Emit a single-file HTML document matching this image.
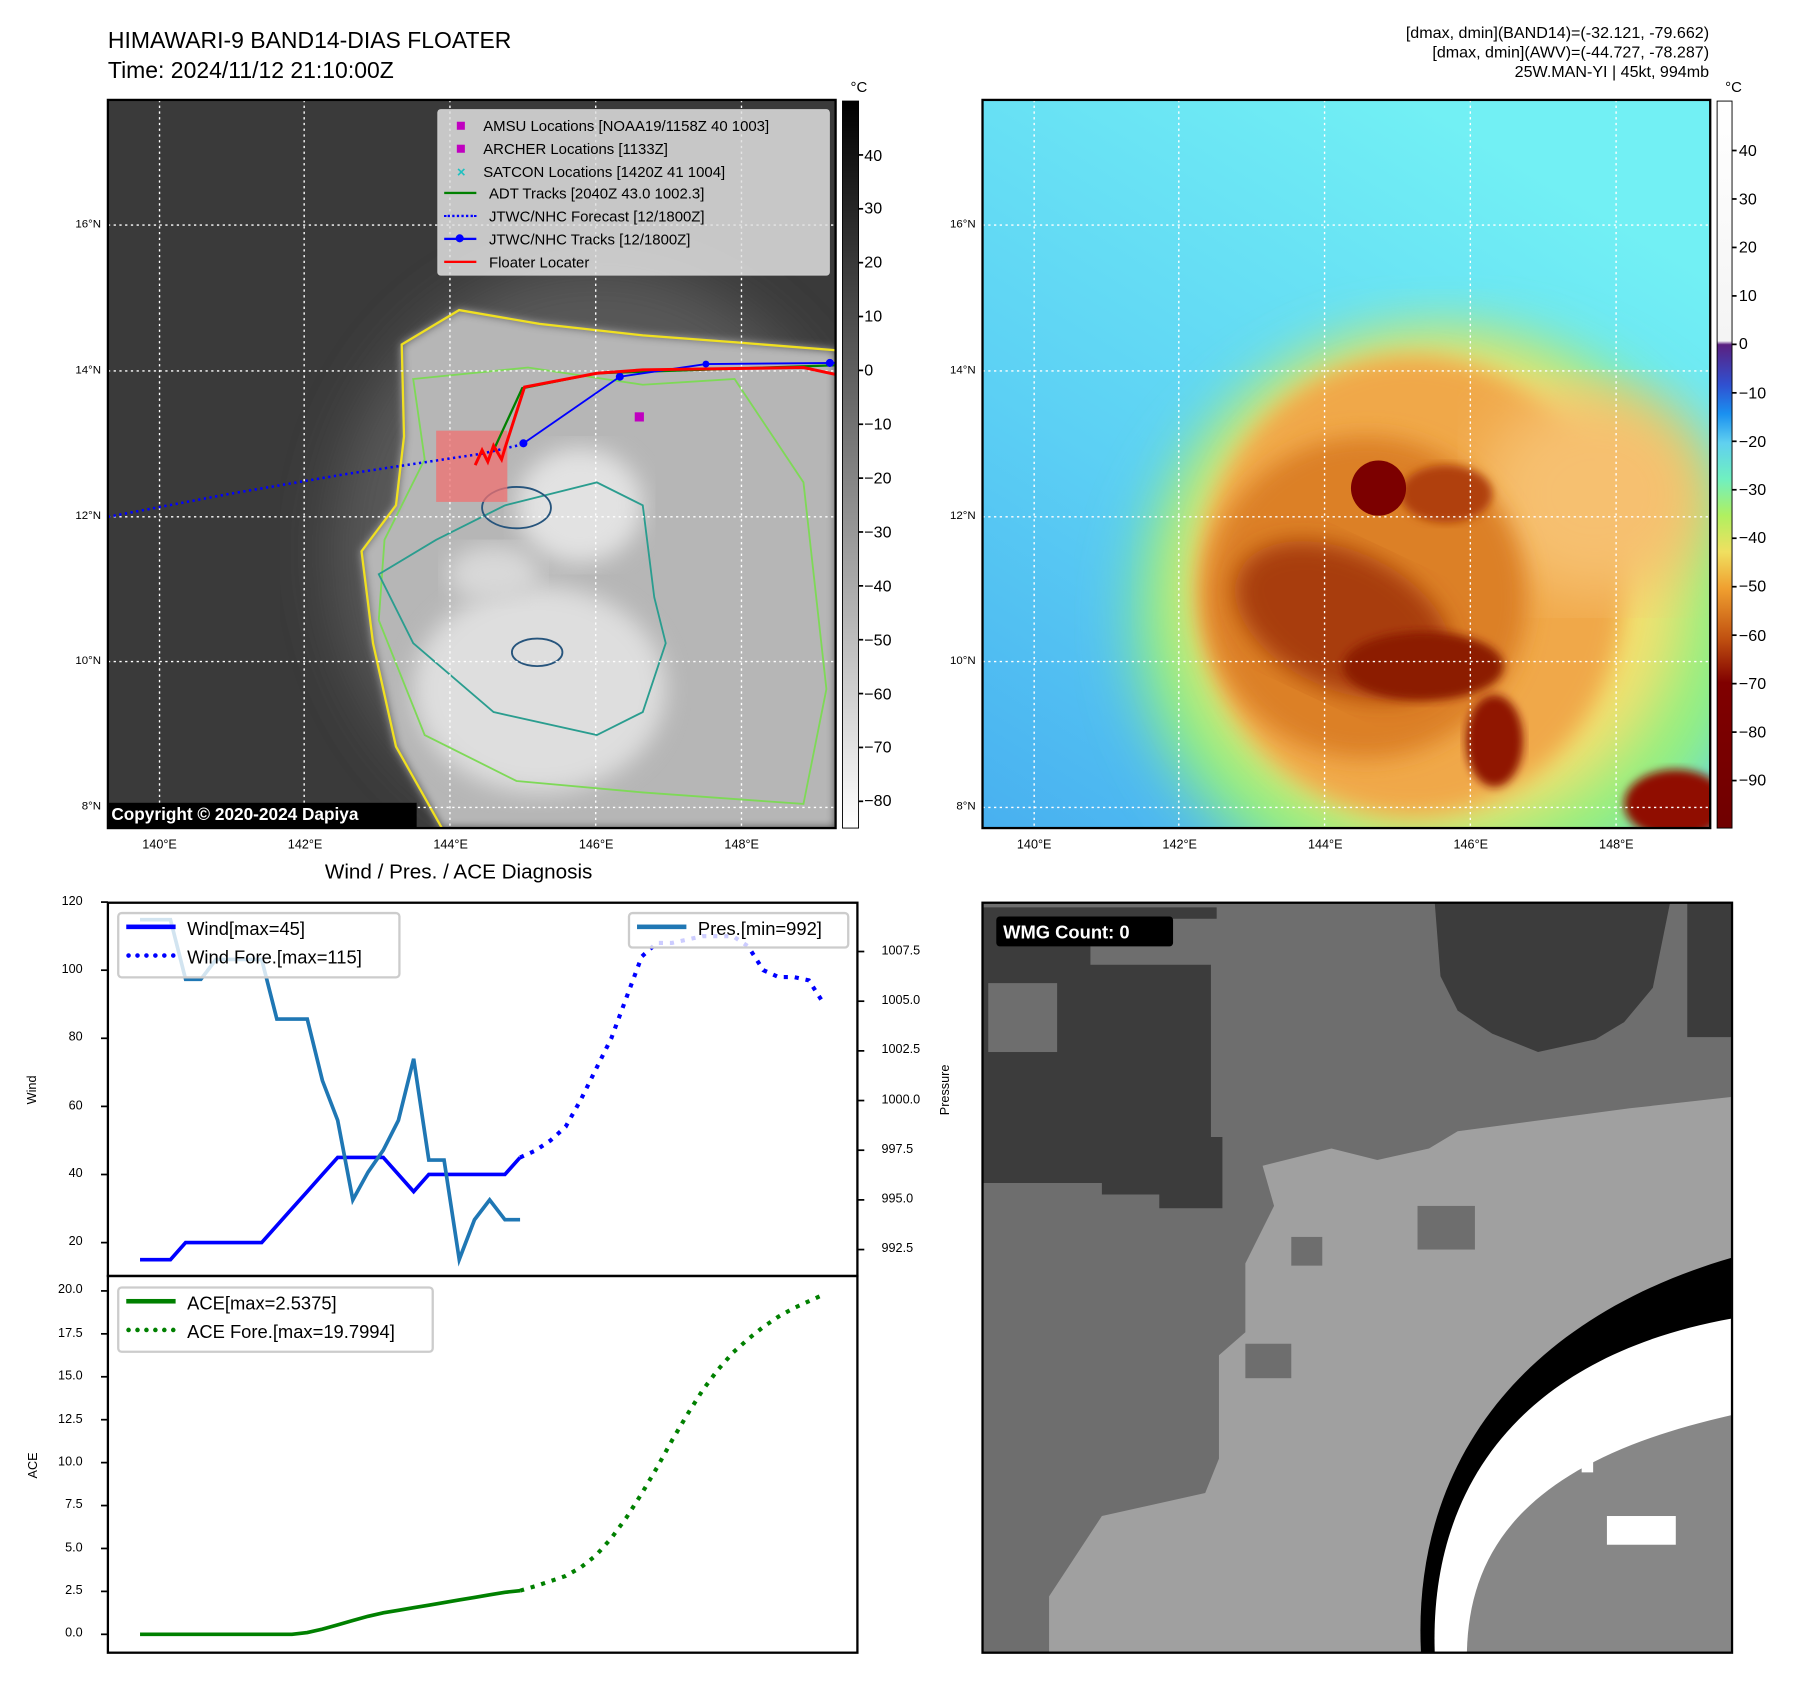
<!DOCTYPE html>
<html><head><meta charset="utf-8">
<style>
html,body{margin:0;padding:0;background:#fff;}
body{width:1801px;height:1690px;overflow:hidden;font-family:"Liberation Sans",sans-serif;}
#wrap{position:absolute;left:0;top:0;width:1569px;height:1472px;transform:scale(1.1478,1.1485);transform-origin:0 0;}
.t{position:absolute;white-space:nowrap;color:#000;}
svg{position:absolute;left:0;top:0;overflow:visible;}
</style></head><body>
<div id="wrap">
<div class="t" style="left:94px;top:23px;font-size:20px;line-height:26px;">HIMAWARI-9 BAND14-DIAS FLOATER<br>Time: 2024/11/12 21:10:00Z</div>
<div class="t" style="right:80px;top:20px;font-size:14px;line-height:17px;text-align:right;">[dmax, dmin](BAND14)=(-32.121, -79.662)<br>[dmax, dmin](AWV)=(-44.727, -78.287)<br>25W.MAN-YI | 45kt, 994mb</div>

<svg width="1569" height="1472">
<defs>
<filter id="b4"><feGaussianBlur stdDeviation="4"/></filter>
<filter id="b10"><feGaussianBlur stdDeviation="10"/></filter>
<filter id="b25"><feGaussianBlur stdDeviation="25"/></filter>
<clipPath id="c1"><rect x="94" y="87" width="634" height="634"/></clipPath>
<clipPath id="c2"><rect x="856" y="87" width="634" height="634"/></clipPath>
<clipPath id="c3"><rect x="856" y="786" width="653" height="653"/></clipPath>
<linearGradient id="gbar" x1="0" y1="0" x2="0" y2="1"><stop offset="0" stop-color="#000"/><stop offset="1" stop-color="#fff"/></linearGradient>
<linearGradient id="jet" x1="0" y1="0" x2="0" y2="1">
<stop offset="0" stop-color="#fff"/><stop offset="0.33" stop-color="#f4f4f4"/>
<stop offset="0.335" stop-color="#5a2080"/><stop offset="0.39" stop-color="#3050d0"/>
<stop offset="0.43" stop-color="#1a90f0"/><stop offset="0.47" stop-color="#60d0f0"/>
<stop offset="0.52" stop-color="#70f0c0"/><stop offset="0.57" stop-color="#b0f060"/>
<stop offset="0.62" stop-color="#f0e060"/><stop offset="0.67" stop-color="#f0a030"/>
<stop offset="0.74" stop-color="#c05010"/><stop offset="0.8" stop-color="#800000"/><stop offset="1" stop-color="#700000"/></linearGradient>
<linearGradient id="sea" x1="0" y1="1" x2="0.6" y2="0"><stop offset="0" stop-color="#48b0f0"/><stop offset="0.45" stop-color="#5cd0f4"/><stop offset="1" stop-color="#72f0f4"/></linearGradient>
</defs>

<!-- TOP LEFT MAP -->
<g clip-path="url(#c1)">
<rect x="94" y="87" width="634" height="634" fill="#3a3a3a"/>
<ellipse cx="520" cy="480" rx="230" ry="250" fill="#585858" filter="url(#b25)"/>
<path d="M350,300 L400,270 L470,282 L560,292 L640,298 L728,305 L728,721 L385,721 L345,650 L325,560 L315,480 L345,440 L352,380 Z" fill="#b6b6b6" filter="url(#b4)"/>
<ellipse cx="470" cy="600" rx="110" ry="90" fill="#dedede" filter="url(#b10)"/>
<ellipse cx="505" cy="440" rx="55" ry="50" fill="#e2e2e2" filter="url(#b10)"/>
<ellipse cx="430" cy="500" rx="40" ry="25" fill="#d8d8d8" filter="url(#b10)"/>
<path d="M728,305 L640,298 L560,292 L470,282 L400,270 L350,300 L352,380 L345,440 L315,480 L325,560 L345,650 L385,721" fill="none" stroke="#f0e020" stroke-width="2"/>
<path d="M360,330 L460,320 L560,335 L640,330 L700,420 L720,600 L700,700 L560,690 L450,680 L370,640 L330,540 L335,470 L370,400 Z" fill="none" stroke="#7ed957" stroke-width="1.6"/>
<path d="M380,470 L440,440 L520,420 L560,440 L570,520 L580,560 L560,620 L520,640 L430,620 L360,560 L330,500 Z" fill="none" stroke="#2a9d8f" stroke-width="1.6"/>
<ellipse cx="450" cy="442" rx="30" ry="18" fill="none" stroke="#26547c" stroke-width="1.6"/>
<ellipse cx="468" cy="568" rx="22" ry="12" fill="none" stroke="#26547c" stroke-width="1.6"/>
<g stroke="#fff" stroke-width="1.2" stroke-dasharray="2,3">
<line x1="139" y1="87" x2="139" y2="721"/><line x1="265" y1="87" x2="265" y2="721"/><line x1="392" y1="87" x2="392" y2="721"/><line x1="519" y1="87" x2="519" y2="721"/><line x1="646" y1="87" x2="646" y2="721"/>
<line x1="94" y1="196" x2="728" y2="196"/><line x1="94" y1="323" x2="728" y2="323"/><line x1="94" y1="450" x2="728" y2="450"/><line x1="94" y1="576" x2="728" y2="576"/><line x1="94" y1="703" x2="728" y2="703"/></g>
<rect x="380" y="375" width="62" height="62" fill="#f07070" opacity="0.75"/>
<polyline points="94,450 200,430 300,413 420,395 455,387" fill="none" stroke="#00f" stroke-width="2.2" stroke-dasharray="2,3"/>
<polyline points="430,392 455,338 520,325 728,318" fill="none" stroke="#008000" stroke-width="2"/>
<polyline points="456,386 540,328 615,317 728,316" fill="none" stroke="#00f" stroke-width="1.6"/>
<g fill="#00f"><circle cx="456" cy="386" r="3.5"/><circle cx="540" cy="328" r="3.5"/><circle cx="615" cy="317" r="3"/><circle cx="723" cy="316" r="3.5"/></g>
<polyline points="414,405 420,392 425,402 430,388 437,400 440,390 457,337 520,325 560,322 700,320 728,326" fill="none" stroke="#f00" stroke-width="2.6"/>
<rect x="553" y="359" width="8" height="8" fill="#c000c0"/>
</g>
<rect x="94" y="87" width="634" height="634" fill="none" stroke="#000" stroke-width="2"/>
<rect x="734" y="88" width="14" height="633" fill="url(#gbar)" stroke="#000" stroke-width="0.8"/>

<!-- TOP RIGHT MAP -->
<g clip-path="url(#c2)">
<rect x="856" y="87" width="634" height="634" fill="url(#sea)"/>
<ellipse cx="1260" cy="540" rx="270" ry="250" fill="#90f080" filter="url(#b25)"/>
<ellipse cx="1250" cy="510" rx="220" ry="215" fill="#f4e070" filter="url(#b25)"/>
<ellipse cx="1230" cy="510" rx="185" ry="200" fill="#f0a848" filter="url(#b10)"/>
<ellipse cx="1390" cy="430" rx="100" ry="90" fill="#f6c070" filter="url(#b25)"/>
<ellipse cx="1190" cy="520" rx="140" ry="140" fill="#dc8028" filter="url(#b10)"/>
<ellipse cx="1170" cy="540" rx="100" ry="60" fill="#a83c08" filter="url(#b10)" transform="rotate(25 1170 540)"/>
<ellipse cx="1240" cy="580" rx="70" ry="30" fill="#8c1a00" filter="url(#b4)"/>
<ellipse cx="1260" cy="430" rx="40" ry="25" fill="#b04010" filter="url(#b4)"/>
<ellipse cx="1302" cy="645" rx="25" ry="40" fill="#901800" filter="url(#b4)"/>
<ellipse cx="1460" cy="700" rx="45" ry="30" fill="#901000" filter="url(#b4)"/>
<circle cx="1201" cy="425" r="24" fill="#7c0000"/>
<g stroke="#fff" stroke-width="1.2" stroke-dasharray="2,3">
<line x1="901" y1="87" x2="901" y2="721"/><line x1="1027" y1="87" x2="1027" y2="721"/><line x1="1154" y1="87" x2="1154" y2="721"/><line x1="1281" y1="87" x2="1281" y2="721"/><line x1="1408" y1="87" x2="1408" y2="721"/>
<line x1="856" y1="196" x2="1490" y2="196"/><line x1="856" y1="323" x2="1490" y2="323"/><line x1="856" y1="450" x2="1490" y2="450"/><line x1="856" y1="576" x2="1490" y2="576"/><line x1="856" y1="703" x2="1490" y2="703"/></g>
</g>
<rect x="856" y="87" width="634" height="634" fill="none" stroke="#000" stroke-width="2"/>
<rect x="1496" y="88" width="13" height="633" fill="url(#jet)" stroke="#000" stroke-width="0.8"/>

<!-- BOTTOM RIGHT -->
<g clip-path="url(#c3)">
<rect x="856" y="786" width="653" height="653" fill="#6e6e6e"/>
<polygon points="856,790 1060,790 1060,800 950,800 950,840 1055,840 1055,990 1065,990 1065,1052 1010,1052 1010,1040 960,1040 960,1030 856,1030" fill="#3c3c3c"/>
<polygon points="1250,786 1455,786 1440,860 1415,890 1390,905 1340,916 1300,900 1270,880 1255,850" fill="#3c3c3c"/>
<rect x="1470" y="786" width="39" height="117" fill="#3c3c3c"/>
<rect x="861" y="856" width="60" height="60" fill="#6e6e6e"/>
<polygon points="1100,1015 1160,1000 1200,1010 1245,1000 1270,985 1420,965 1509,955 1509,1439 914,1439 914,1390 960,1320 1050,1300 1062,1270 1062,1180 1085,1160 1085,1100 1110,1050" fill="#a0a0a0"/>
<rect x="1125" y="1077" width="27" height="25" fill="#6e6e6e"/><rect x="1085" y="1170" width="40" height="30" fill="#6e6e6e"/><rect x="1235" y="1050" width="50" height="38" fill="#6e6e6e"/>
<path d="M1238,1439 C1230,1280 1320,1150 1509,1095 L1509,1439 Z" fill="#000"/>
<path d="M1250,1439 C1245,1290 1330,1180 1509,1148 L1509,1439 Z" fill="#fff"/>
<path d="M1278,1439 C1280,1340 1340,1270 1509,1232 L1509,1439 Z" fill="#878787"/>
<rect x="1400" y="1320" width="60" height="25" fill="#fff"/><rect x="1378" y="1270" width="10" height="12" fill="#fff"/>
</g>
<rect x="856" y="786" width="653" height="653" fill="none" stroke="#000" stroke-width="2"/>
<rect x="868" y="798" width="154" height="26" rx="3" fill="#000"/>
<text x="874" y="817" font-size="16" font-weight="bold" fill="#fff">WMG Count: 0</text>

<rect x="94" y="786" width="653" height="325" fill="none" stroke="#000" stroke-width="2"/>
<rect x="94" y="1111" width="653" height="328" fill="none" stroke="#000" stroke-width="2"/>
<g id="chart"></g>
</svg>

<div class="t" style="left:741px;top:68px;font-size:13px;">°C</div>
<div class="t" style="left:1503px;top:68px;font-size:13px;">°C</div>
<div id="labels"></div>

<div style="position:absolute;left:381px;top:95px;width:340px;height:143px;background:rgba(225,225,225,0.85);border:1px solid #ccc;border-radius:3px;font-size:13px;">
<div style="position:absolute;left:16px;top:4px;line-height:19.8px;">
<div><span style="display:inline-block;width:7px;height:7px;background:#c000c0;margin:0 16px 1px 0;"></span>AMSU Locations [NOAA19/1158Z 40 1003]</div>
<div><span style="display:inline-block;width:7px;height:7px;background:#c000c0;margin:0 16px 1px 0;"></span>ARCHER Locations [1133Z]</div>
<div><span style="display:inline-block;width:7px;color:#20c0c0;margin-right:16px;font-weight:bold;">×</span>SATCON Locations [1420Z 41 1004]</div>
<div style="margin-left:-11px"><span style="display:inline-block;width:28px;height:2px;background:#008000;margin:0 11px 4px 0;"></span>ADT Tracks [2040Z 43.0 1002.3]</div>
<div style="margin-left:-11px"><span style="display:inline-block;width:28px;border-top:2px dotted #00f;margin:0 11px 4px 0;"></span>JTWC/NHC Forecast [12/1800Z]</div>
<div style="margin-left:-11px"><span style="display:inline-block;width:28px;height:2px;background:#00f;margin:0 11px 4px 0;position:relative;"><span style="position:absolute;left:10px;top:-3px;width:7px;height:7px;border-radius:50%;background:#00f;"></span></span>JTWC/NHC Tracks [12/1800Z]</div>
<div style="margin-left:-11px"><span style="display:inline-block;width:28px;height:2px;background:#f00;margin:0 11px 4px 0;"></span>Floater Locater</div>
</div></div>

<div class="t" style="left:94px;top:699px;width:269px;height:22px;background:#000;color:#fff;font-weight:bold;font-size:15px;line-height:22px;padding-left:3px;box-sizing:border-box;">Copyright © 2020-2024 Dapiya</div>

<div class="t" style="left:283px;top:749px;font-size:18px;">Wind / Pres. / ACE Diagnosis</div>
<div class="t" style="left:16px;top:943px;font-size:11px;transform:rotate(-90deg);">Wind</div>
<div class="t" style="left:802px;top:943px;font-size:11px;transform:rotate(-90deg);">Pressure</div>
<div class="t" style="left:18px;top:1270px;font-size:11px;transform:rotate(-90deg);">ACE</div>

<div style="position:absolute;left:102px;top:794px;width:243px;height:54px;border:2px solid #ccc;border-radius:4px;background:rgba(255,255,255,0.8);font-size:16px;line-height:25px;">
<div style="position:absolute;left:6px;top:1px;">
<div><span style="display:inline-block;width:43px;height:4px;background:#00f;margin:0 10px 5px 0;"></span>Wind[max=45]</div>
<div><span style="display:inline-block;width:43px;border-top:4px dotted #00f;margin:0 10px 5px 0;"></span>Wind Fore.[max=115]</div></div></div>
<div style="position:absolute;left:547px;top:794px;width:189px;height:28px;border:2px solid #ccc;border-radius:4px;background:rgba(255,255,255,0.8);font-size:16px;line-height:25px;">
<div style="position:absolute;left:6px;top:1px;"><span style="display:inline-block;width:43px;height:4px;background:#1f77b4;margin:0 10px 5px 0;"></span>Pres.[min=992]</div></div>
<div style="position:absolute;left:102px;top:1120px;width:272px;height:54px;border:2px solid #ccc;border-radius:4px;background:rgba(255,255,255,0.8);font-size:16px;line-height:25px;">
<div style="position:absolute;left:6px;top:1px;">
<div><span style="display:inline-block;width:43px;height:4px;background:#008000;margin:0 10px 5px 0;"></span>ACE[max=2.5375]</div>
<div><span style="display:inline-block;width:43px;border-top:4px dotted #008000;margin:0 10px 5px 0;"></span>ACE Fore.[max=19.7994]</div></div></div>
</div>

<script>
const windObs = [15,15,15,20,20,20,20,20,20,25,30,35,40,45,45,45,45,40,35,40,40,40,40,40,40,45];
const windFore = [45,47,50,54,62,71,80,92,104,108,108,109,110,110,110,107,100,98,98,97,90];
const presObs = [1009.1,1009.1,1009.1,1006.1,1006.1,1007.1,1007.1,1007.1,1007.1,1004.1,1004.1,1004.1,1001.0,999.0,995.0,996.4,997.5,999.0,1002.1,997.0,997.0,992.0,994.0,995.0,994.0,994.0];
const aceObs = [0,0,0,0,0,0,0,0,0,0,0,0.1,0.3,0.55,0.8,1.05,1.25,1.4,1.55,1.7,1.85,2.0,2.15,2.3,2.45,2.54];
const aceFore = [2.54,2.8,3.1,3.4,3.9,4.6,5.6,6.8,8.2,9.7,11.3,12.8,14.2,15.4,16.4,17.2,17.9,18.5,19.0,19.4,19.8];
const windTicks = [20,40,60,80,100,120];
const presTicks = [992.5,995.0,997.5,1000.0,1002.5,1005.0,1007.5];
const aceTicks = [0.0,2.5,5.0,7.5,10.0,12.5,15.0,17.5,20.0];
const latTicks = ["16°N","14°N","12°N","10°N","8°N"];
const lonTicks = ["140°E","142°E","144°E","146°E","148°E"];
const irBarTicks = [40,30,20,10,0,-10,-20,-30,-40,-50,-60,-70,-80];
const colorBarTicks = [40,30,20,10,0,-10,-20,-30,-40,-50,-60,-70,-80,-90];

const NS = "http://www.w3.org/2000/svg";
const xIdx = i => 122 + i*13.244;
const yWind = v => 1111 - (v - 10.2)*2.965;
const yPres = v => 1111 - (v - 991.17)*17.3;
const yAce = v => 1439 - (v + 1.07)*14.95;
const g = document.getElementById('chart');
function line(pts, color, w, dash, name){
  const p = document.createElementNS(NS,'polyline');
  p.setAttribute('points', pts.map(q=>q[0].toFixed(1)+','+q[1].toFixed(1)).join(' '));
  p.setAttribute('fill','none'); p.setAttribute('stroke',color); p.setAttribute('stroke-width',w);
  if(dash) p.setAttribute('stroke-dasharray',dash);
  
  
  g.appendChild(p);
}
line(windObs.map((v,i)=>[xIdx(i),yWind(v)]),'#0000ff',3.2,null,'wind-line');
line(windFore.map((v,i)=>[xIdx(i+windObs.length-1),yWind(v)]),'#0000ff',3.6,'3.6,6','wind-forecast-line');
line(presObs.map((v,i)=>[xIdx(i),yPres(v)]),'#1f77b4',3.2,null,'pressure-line');
line(aceObs.map((v,i)=>[xIdx(i),yAce(v)]),'#008000',3.2,null,'ace-line');
line(aceFore.map((v,i)=>[xIdx(i+aceObs.length-1),yAce(v)]),'#008000',3.6,'3.6,6','ace-forecast-line');

const L = document.getElementById('labels');
function lab(txt,x,y,size,align,name){
  const d=document.createElement('div'); d.className='t'; d.textContent=txt;
  d.style.fontSize=size+'px'; d.style.top=(y-size*0.6)+'px';
  if(align==='r'){d.style.right=(1569-x)+'px';} else if(align==='c'){d.style.left=x+'px';d.style.transform='translateX(-50%)';} else d.style.left=x+'px';
  
  
  L.appendChild(d);
}
function tick(x1,y1,x2,y2,name){
  const t=document.createElementNS(NS,'line');
  t.setAttribute('x1',x1);t.setAttribute('y1',y1);t.setAttribute('x2',x2);t.setAttribute('y2',y2);
  t.setAttribute('stroke','#000');t.setAttribute('stroke-width',1.5);
  
  
  g.appendChild(t);
}
windTicks.forEach(v=>{const y=yWind(v);tick(88,y,94,y,'wind-tick');lab(String(v),72,y,11,'r','wind-tick-label');});
presTicks.forEach(v=>{const y=yPres(v);tick(747,y,753,y,'pressure-tick');lab(v.toFixed(1),768,y,11,'l','pressure-tick-label');});
aceTicks.forEach(v=>{const y=yAce(v);tick(88,y,94,y,'ace-tick');lab(v.toFixed(1),72,y,11,'r','ace-tick-label');});
latTicks.forEach((s,i)=>{const y=196+i*126.8;lab(s,88,y,10,'r','latitude-label');lab(s,850,y,10,'r','latitude-label');});
lonTicks.forEach((s,i)=>{const x=139+i*126.8;lab(s,x,737,11,'c','longitude-label');lab(s,x+762,737,11,'c','longitude-label');});
irBarTicks.forEach(v=>{const y=88+(50-v)*4.69;tick(748,y,752,y,'ir-colorbar-tick');lab(String(v).replace('-','−'),753,y,14,'l','ir-colorbar-label');});
colorBarTicks.forEach(v=>{const y=88+(50.2-v)*4.22;tick(1509,y,1513,y,'colorbar-tick');lab(String(v).replace('-','−'),1515,y,14,'l','colorbar-label');});
</script>
</body></html>
